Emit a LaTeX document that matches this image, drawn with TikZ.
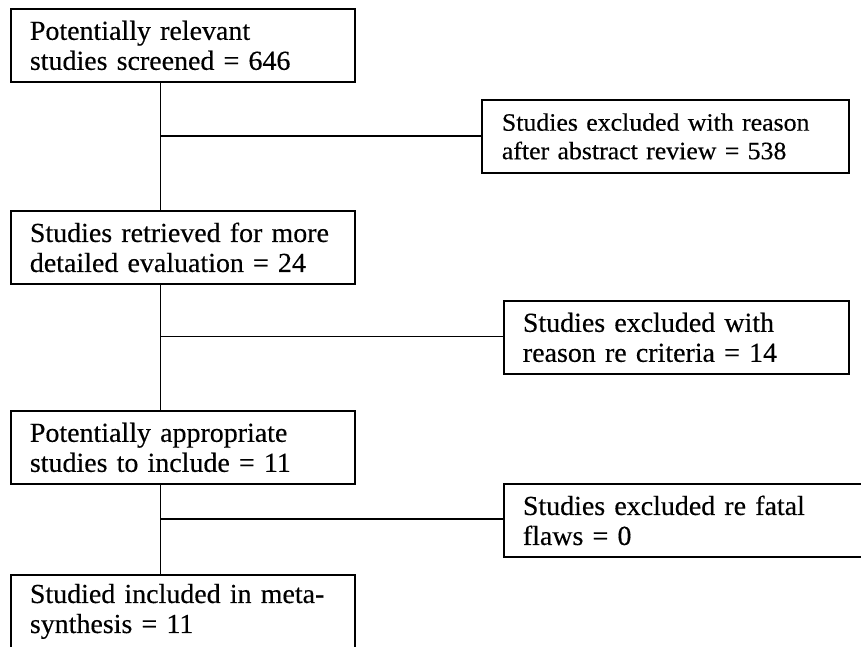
\documentclass[tikz,border=0pt]{standalone}
\usepackage{fontspec}
\newfontfamily\flowfont[FakeStretch=1.016, FakeBold=0.35]{Liberation Serif}
\newfontfamily\flowfontwide[FakeStretch=1.033, FakeBold=0.35]{Liberation Serif}
\usetikzlibrary{calc}
\begin{document}
\begin{tikzpicture}[x=1pt,y=-1pt,
  box/.style={draw=black, line width=1.8pt, anchor=north west, align=left,
    inner xsep=19pt, inner ysep=0pt, minimum height=73pt,
    font=\flowfont\fontsize{27.5}{30}\selectfont},
  smallbox/.style={box, font=\flowfontwide\fontsize{25}{28.5}\selectfont},
  link/.style={draw=black, line width=1.8pt}]
\useasboundingbox (0,0) rectangle (861,646);
\clip (0,0) rectangle (861,646);

% main column
\node[box, text width=306pt] (b1) at (10,8)
  {Potentially relevant\\studies screened = 646};
\node[box, text width=306pt] (b2) at (10,210)
  {Studies retrieved for more\\detailed evaluation = 24};
\node[box, text width=306pt] (b3) at (10,410)
  {Potentially appropriate\\studies to include = 11};
\node[box, text width=306pt] (b4) at (10,574)
  {Studied included in meta-\\synthesis = 11};

% exclusion boxes
\node[smallbox, text width=327pt, inner xsep=20pt] (r1) at (481,99)
  {Studies excluded with reason\\after abstract review = 538};
\node[box, text width=307pt] (r2) at (503,300)
  {Studies excluded with\\reason re criteria = 14};
\node[box, text width=329pt] (r3) at (503,483)
  {Studies excluded re fatal\\flaws = 0};

% branch points on the trunk
\coordinate (j1) at (160.5,136);
\coordinate (j2) at (160.5,336.5);
\coordinate (j3) at (160.5,519);

\draw[link] (j1 |- b1.south) -- (j1 |- b2.north);
\draw[link] (j2 |- b2.south) -- (j2 |- b3.north);
\draw[link] (j3 |- b3.south) -- (j3 |- b4.north);
\draw[link] (j1) -- (j1 -| r1.west);
\draw[link] (j2) -- (j2 -| r2.west);
\draw[link] (j3) -- (j3 -| r3.west);
\end{tikzpicture}
\end{document}
